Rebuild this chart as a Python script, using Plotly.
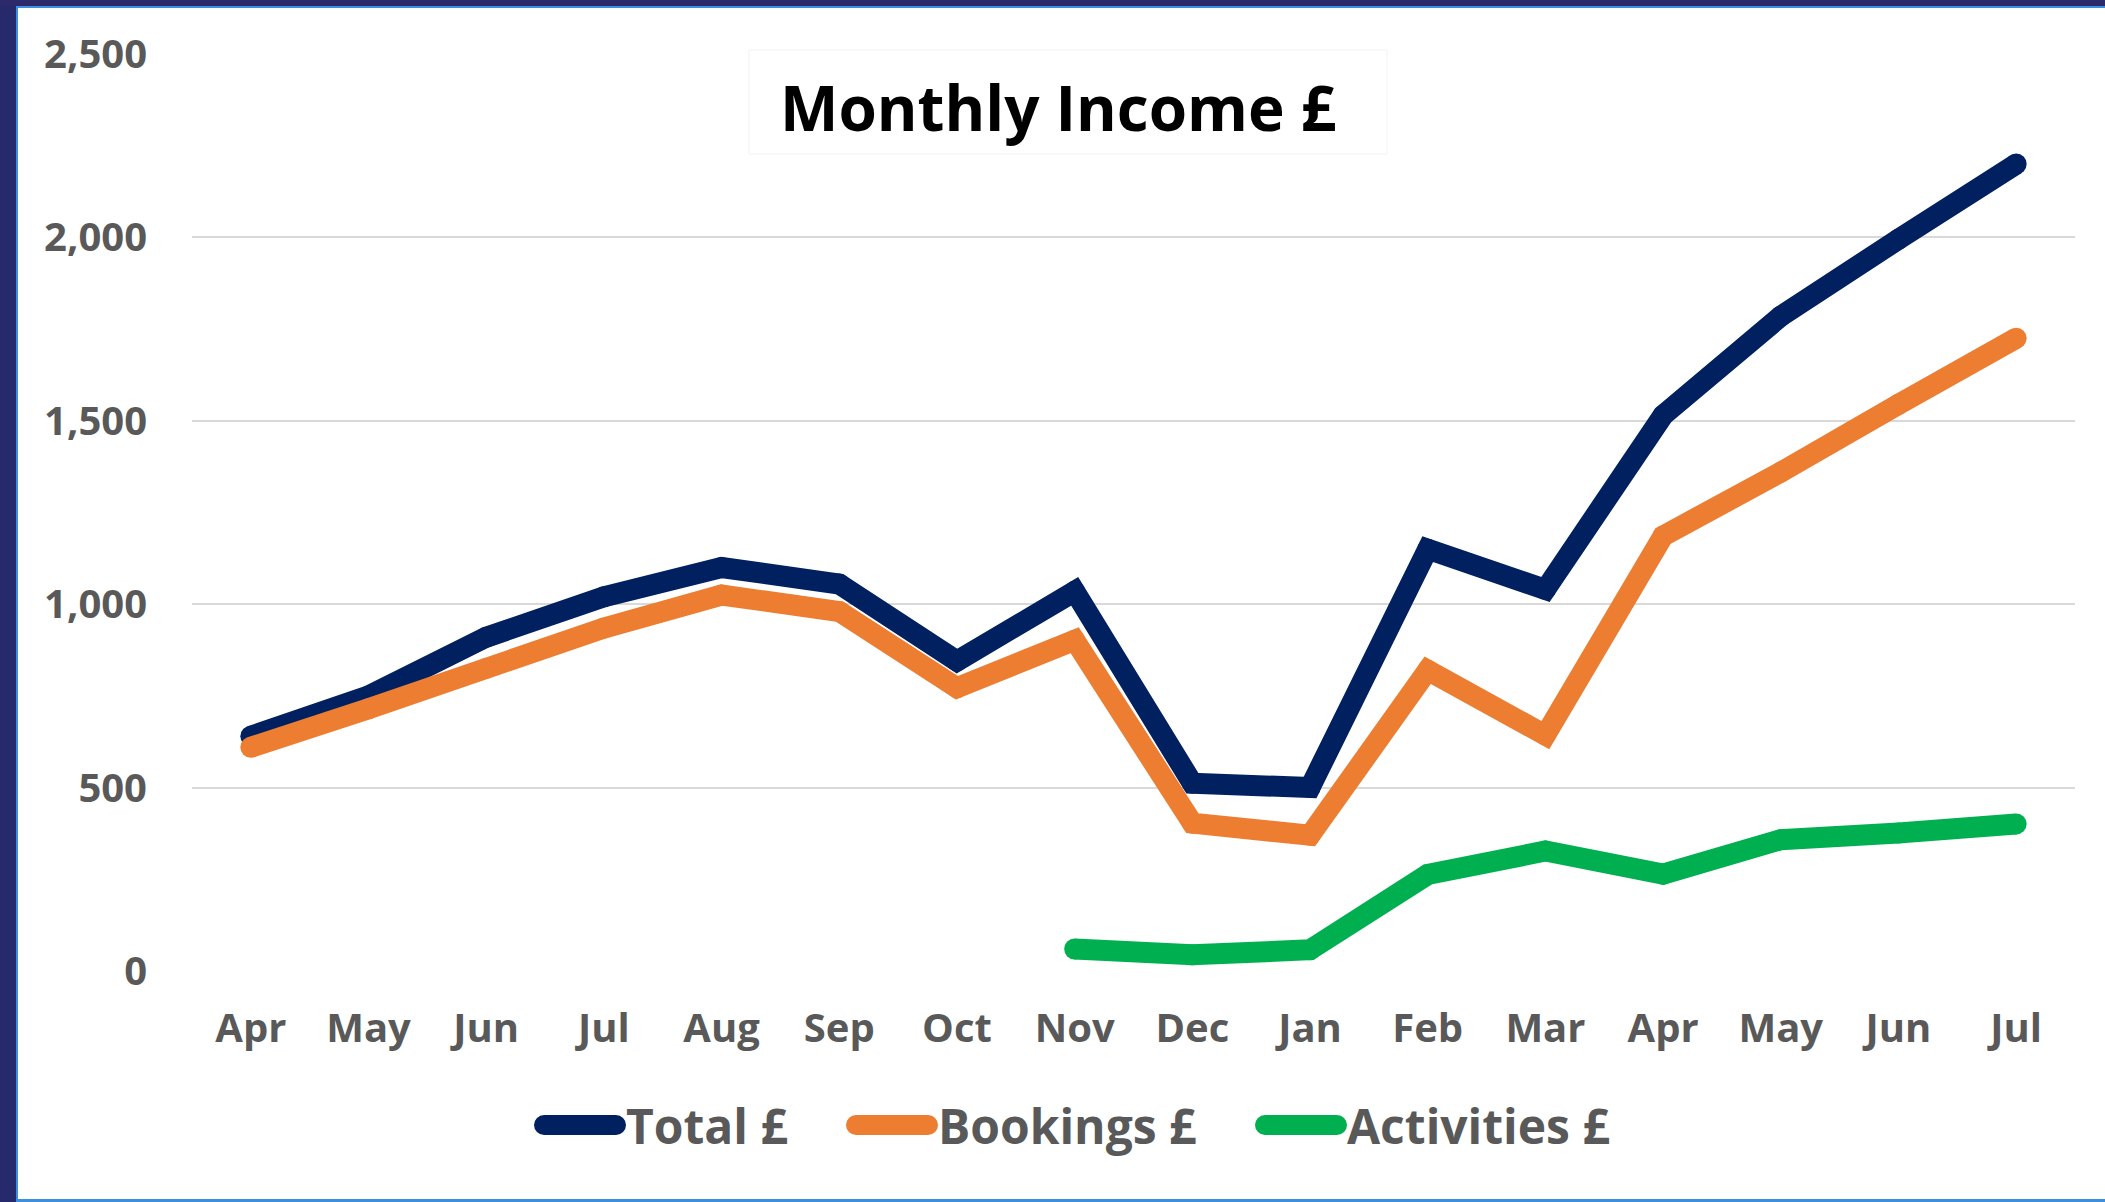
import plotly.graph_objects as go

months = ["Apr", "May", "Jun", "Jul", "Aug", "Sep", "Oct", "Nov",
          "Dec", "Jan", "Feb", "Mar", "Apr", "May", "Jun", "Jul"]
total = [640, 750, 910, 1020, 1100, 1055, 845, 1035,
         512, 500, 1150, 1040, 1515, 1785, 1995, 2200]
bookings = [610, 715, 825, 935, 1025, 980, 772, 902,
            403, 370, 820, 643, 1186, 1360, 1545, 1725]
activities = [None, None, None, None, None, None, None, 60,
              44, 58, 263, 327, 264, 358, 376, 401]
y_ticks = [0, 500, 1000, 1500, 2000, 2500]
series_names = ["Total £", "Bookings £", "Activities £"]
series_colors = ["#002060", "#ED7D31", "#00B050"]

W, H = 2105, 1202
L, R, T, B = 192, 30, 54, 231
PW, PH = W - L - R, H - T - B

def px(x):
    return (x - L) / PW

def py(y):
    return (H - B - y) / PH

xi = list(range(len(months)))
LW = 21

fig = go.Figure()
for name, vals, col in zip(series_names, [total, bookings, activities], series_colors):
    fig.add_trace(go.Scatter(
        x=xi, y=vals, name=name, mode="lines+markers",
        line=dict(color=col, width=LW, simplify=False),
        marker=dict(color=col, size=LW, line=dict(width=0)),
        connectgaps=False, showlegend=False,
    ))

shapes = [
    # title box
    dict(type="rect", xref="paper", yref="paper",
         x0=px(749), x1=px(1387), y0=py(50), y1=py(154),
         fillcolor="white", line=dict(color="#f2f2f2", width=1), layer="above"),
    # left navy border
    dict(type="rect", xref="paper", yref="paper",
         x0=px(0), x1=px(16), y0=py(0), y1=py(H),
         fillcolor="#262a6c", line=dict(width=0), layer="above"),
    dict(type="rect", xref="paper", yref="paper",
         x0=px(16), x1=px(18), y0=py(6), y1=py(H),
         fillcolor="#3b8fde", line=dict(width=0), layer="above"),
    # top navy border
    dict(type="rect", xref="paper", yref="paper",
         x0=px(0), x1=px(W), y0=py(0), y1=py(6),
         fillcolor="#2c2a6a", line=dict(width=0), layer="above"),
    dict(type="rect", xref="paper", yref="paper",
         x0=px(16), x1=px(W), y0=py(6), y1=py(8),
         fillcolor="#3b8fde", line=dict(width=0), layer="above"),
    # bottom light blue line
    dict(type="rect", xref="paper", yref="paper",
         x0=px(16), x1=px(W), y0=py(1199), y1=py(H),
         fillcolor="#3b8fde", line=dict(width=0), layer="above"),
]

annotations = [dict(
    text="<b>Monthly Income £</b>", xref="paper", yref="paper",
    x=px(1058), y=py(107), xanchor="center", yanchor="middle",
    showarrow=False, font=dict(family="Open Sans", size=62, color="black"))]

# legend (drawn manually so the keys can be thick rounded bars)
leg_y = 1125
leg_starts = [534, 846, 1255]
key_len, key_w = 92, 20
for name, col, x0 in zip(series_names, series_colors, leg_starts):
    r = key_w / 2
    shapes.append(dict(type="rect", xref="paper", yref="paper",
                       x0=px(x0 + r), x1=px(x0 + key_len - r),
                       y0=py(leg_y + r), y1=py(leg_y - r),
                       fillcolor=col, line=dict(width=0), layer="above"))
    for cx in (x0 + r, x0 + key_len - r):
        shapes.append(dict(type="circle", xref="paper", yref="paper",
                           x0=px(cx - r), x1=px(cx + r),
                           y0=py(leg_y + r), y1=py(leg_y - r),
                           fillcolor=col, line=dict(width=0), layer="above"))
    annotations.append(dict(
        text=f"<b>{name}</b>", xref="paper", yref="paper",
        x=px(x0 + key_len - 2), y=py(leg_y), xanchor="left", yanchor="middle",
        showarrow=False, font=dict(family="Open Sans", size=48, color="#595959")))

fig.update_layout(
    width=W, height=H,
    margin=dict(l=L, r=R, t=T, b=B, autoexpand=False),
    paper_bgcolor="white", plot_bgcolor="white",
    font=dict(family="Open Sans", color="#595959"),
    shapes=shapes,
    annotations=annotations,
    showlegend=False,
    xaxis=dict(
        range=[-0.5, len(months) - 0.5], tickmode="array",
        tickvals=xi, ticktext=months, showgrid=False, zeroline=False,
        showline=False, ticks="", ticklabelstandoff=30,
        tickfont=dict(family="Open Sans", size=40, color="#595959", weight="bold"),
    ),
    yaxis=dict(
        range=[0, 2500], tickvals=y_ticks, tickformat=",",
        showgrid=True, gridcolor="#d9d9d9", gridwidth=2, zeroline=False,
        showline=False, ticks="", ticklabelstandoff=44,
        tickfont=dict(family="Open Sans", size=40, color="#595959", weight="bold"),
    ),
)

fig.write_html(
    "out.html",
    config={"displayModeBar": False},
    post_script="document.body.style.margin='0';document.body.style.overflow='hidden';",
)
